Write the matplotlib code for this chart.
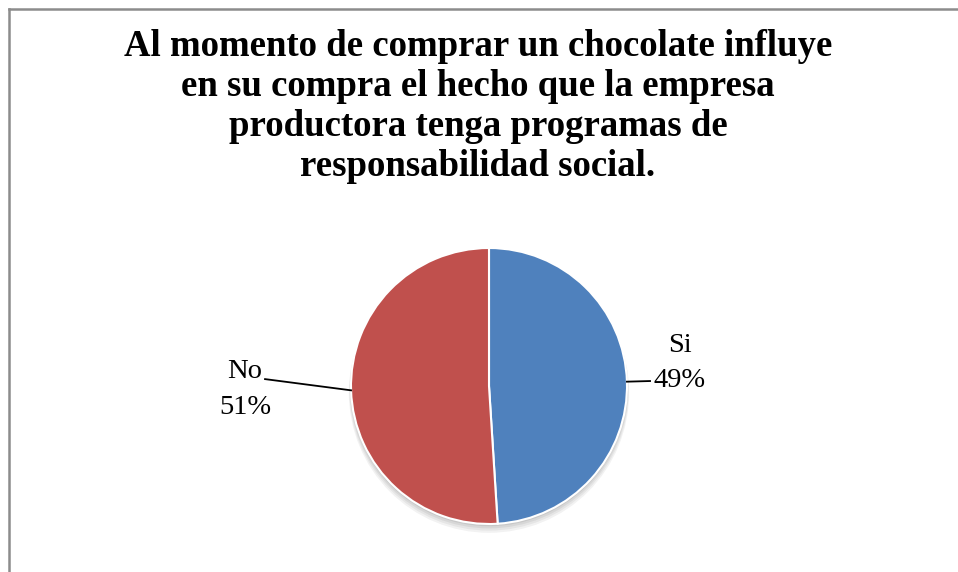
import matplotlib.pyplot as plt
from matplotlib.patches import Circle
from matplotlib.lines import Line2D
import numpy as np

title = ("Al momento de comprar un chocolate influye\n"
         "en su compra el hecho que la empresa\n"
         "productora tenga programas de\n"
         "responsabilidad social.")
labels = ["Si", "No"]
values = [49, 51]
colors = ["#4F81BD", "#C0504D"]

W, H = 958, 572
cx, cy, r = 489, 386, 138  # pie centre and radius in pixels

fig = plt.figure(figsize=(W / 100, H / 100), dpi=100)
fig.patch.set_facecolor("white")

ax = fig.add_axes([0, 0, 1, 1])
ax.axis("off")

# soft shadow under the pie
for k, a in enumerate([0.05, 0.05, 0.06, 0.07]):
    off = 0.012 * (4 - k)
    ax.add_patch(Circle((0, -off), 1.0 + 0.004 * (4 - k), color="black",
                        alpha=a, lw=0, zorder=0))

wedges, _ = ax.pie(values, colors=colors, startangle=90, counterclock=False,
                   wedgeprops=dict(edgecolor="white", linewidth=1.5),
                   radius=1.0)
for w in wedges:
    w.set_zorder(2)

ax.set_xlim(-cx / r, (W - cx) / r)
ax.set_ylim(-(H - cy) / r, cy / r)
ax.set_aspect("auto")

# labels with leader lines
text_pos = [(1.384, 0.165), (-1.768, -0.025)]
line_end = [(1.167, 0.036), (-1.623, 0.05)]
total = sum(values)
start = 90.0
for i, (lab, v) in enumerate(zip(labels, values)):
    sweep = 360.0 * v / total
    mid = np.deg2rad(start - sweep / 2)
    start -= sweep
    ex, ey = np.cos(mid), np.sin(mid)
    lx, ly = line_end[i]
    ax.plot([ex, lx], [ey, ly], color="black", lw=1.3, zorder=3)
    tx, ty = text_pos[i]
    ax.text(tx, ty, f"{lab}\n{v}%", ha="center", va="center",
            fontsize=20.5, family="Liberation Serif", linespacing=1.55)

fig.text(478 / W, 1 - 29 / H, title, ha="center", va="top",
         fontsize=26.5, fontweight="bold", family="Liberation Serif",
         linespacing=1.18)

# chart area frame (left and top edges)
fig.add_artist(Line2D([8.5 / W, 8.5 / W], [0, 1 - 8.5 / H],
                      transform=fig.transFigure, color="#8c8c8c", lw=1.8))
fig.add_artist(Line2D([8.5 / W, 1], [1 - 8.5 / H, 1 - 8.5 / H],
                      transform=fig.transFigure, color="#8c8c8c", lw=1.8))

fig.savefig("out.png", dpi=100)
